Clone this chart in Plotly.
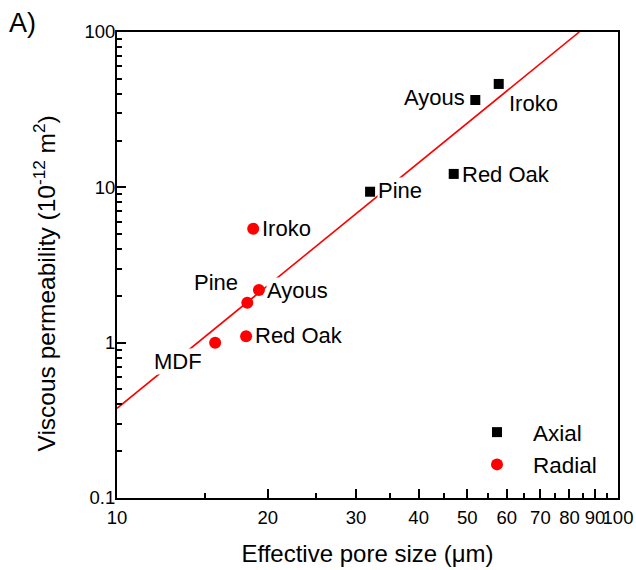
import numpy as np
import plotly.graph_objects as go

# ---- data ----
axial_names = ["Ayous", "Iroko", "Pine", "Red Oak"]
axial_pore = [51.9, 57.8, 32.0, 47.0]
axial_perm = [36.5, 46.3, 9.37, 12.2]

radial_names = ["Iroko", "Ayous", "Pine", "Red Oak", "MDF"]
radial_pore = [18.7, 19.2, 18.2, 18.1, 15.7]
radial_perm = [5.41, 2.18, 1.81, 1.10, 1.00]

fit_pore = [10.0, 83.7]
fit_perm = [0.378, 100.0]

x_major = [10, 20, 30, 40, 50, 60, 70, 80, 90, 100]
x_major_text = ["10", "20", "30", "40", "50", "60", "70", "80", "90", "100"]
x_minor = [15, 25, 35, 45, 55, 65, 75, 85, 95]
y_major = [0.1, 1, 10, 100]
y_major_text = ["0.1", "1", "10", "100"]
y_minor = [0.2, 0.3, 0.4, 0.5, 0.6, 0.7, 0.8, 0.9,
           2, 3, 4, 5, 6, 7, 8, 9,
           20, 30, 40, 50, 60, 70, 80, 90]

# label placement (style): anchor, xshift, yshift in px
axial_lab = [("right", -9, 2), ("left", 9, -20), ("left", 7, 1), ("left", 7, -1)]
radial_lab = [("left", 8, 0), ("left", 7, 0), ("right", -8, 20), ("left", 8, 1), ("right", -12, -19)]

FONT = "Liberation Sans, Arial, sans-serif"

# plot-area geometry in pixels
L, R, T, B = 117, 618, 32, 498
W, H = 636, 570


def px_to_paper(px, py):
    return (px - L) / (R - L), (B - py) / (B - T)


fig = go.Figure()
fig.add_trace(go.Scatter(x=fit_pore, y=fit_perm, mode="lines",
                         line=dict(color="#ff0000", width=1.6),
                         showlegend=False, hoverinfo="skip"))
fig.add_trace(go.Scatter(x=axial_pore, y=axial_perm, mode="markers", name="Axial",
                         marker=dict(symbol="square", size=10, color="black")))
fig.add_trace(go.Scatter(x=radial_pore, y=radial_perm, mode="markers", name="Radial",
                         marker=dict(symbol="circle", size=12, color="#ff0000")))

annotations = []
for names, xs, ys, labs in [(axial_names, axial_pore, axial_perm, axial_lab),
                            (radial_names, radial_pore, radial_perm, radial_lab)]:
    for n, xv, yv, (anc, dx, dy) in zip(names, xs, ys, labs):
        annotations.append(dict(x=np.log10(xv), y=np.log10(yv), xref="x", yref="y",
                                text=n, showarrow=False, xanchor=anc, yanchor="middle",
                                xshift=dx, yshift=dy, bgcolor="white", borderpad=0,
                                font=dict(size=22, color="black", family=FONT)))

ax, ay = px_to_paper(7, 23)
annotations.append(dict(x=ax, y=ay, xref="paper", yref="paper",
                        xanchor="left", yanchor="middle", text="A)", showarrow=False,
                        font=dict(size=27, color="black", family=FONT)))

tx, ty = px_to_paper(44, 283.5)
annotations.append(dict(x=tx, y=ty, xref="paper", yref="paper",
                        xanchor="center", yanchor="middle", textangle=-90, showarrow=False,
                        text="Viscous permeability (10<sup>-12</sup> m<sup>2</sup>)",
                        font=dict(size=24.5, color="black", family=FONT)))

lx, ly = px_to_paper(461, 411)

fig.update_layout(
    width=W, height=H,
    margin=dict(l=L, r=W - R, t=T, b=H - B, autoexpand=False),
    paper_bgcolor="white", plot_bgcolor="white",
    font=dict(family=FONT, color="black"),
    annotations=annotations,
    xaxis=dict(type="log", range=[1, 2], tickmode="array", tickvals=x_major,
               ticktext=x_major_text, ticks="inside", ticklen=9, tickwidth=1.5,
               tickcolor="black", showline=True, linecolor="black", linewidth=2,
               mirror=True, showgrid=False, zeroline=False, tickangle=0,
               automargin=False, ticklabelstandoff=2,
               tickfont=dict(size=18.5, family=FONT),
               minor=dict(tickvals=x_minor, ticks="inside", ticklen=5, tickwidth=1.5,
                          tickcolor="black", showgrid=False),
               title=dict(text="Effective pore size (μm)", font=dict(size=24, family=FONT),
                          standoff=18)),
    yaxis=dict(type="log", range=[-1, 2], tickmode="array", tickvals=y_major,
               ticktext=y_major_text, ticks="inside", ticklen=9, tickwidth=1.5,
               tickcolor="black", showline=True, linecolor="black", linewidth=2,
               mirror=True, showgrid=False, zeroline=False, automargin=False,
               ticklabelstandoff=-4,
               tickfont=dict(size=18.5, family=FONT),
               minor=dict(tickvals=y_minor, ticks="inside", ticklen=5, tickwidth=1.5,
                          tickcolor="black", showgrid=False)),
    legend=dict(x=lx, y=ly, xanchor="left", yanchor="top",
                font=dict(size=22.5, family=FONT), itemwidth=62,
                bgcolor="rgba(0,0,0,0)", tracegroupgap=0),
)

fig.write_html("out.html", config={"displayModeBar": False},
               post_script="document.body.style.margin='0';")
